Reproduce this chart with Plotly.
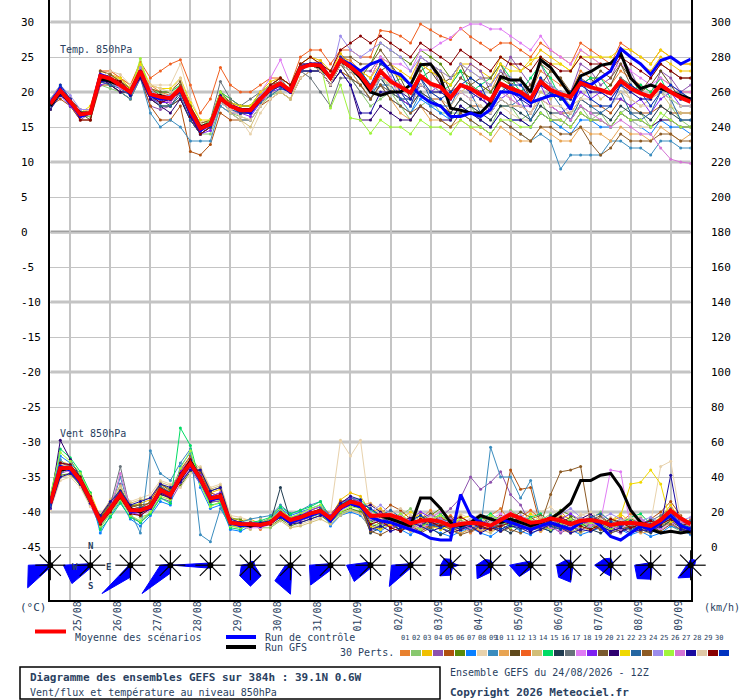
import math
import plotly.graph_objects as go

W, H = 740, 700
X0_PX, X1_PX = 50.3, 690.7      # left / right axis lines
Y_BOTTOM_PX = 600               # bottom axis line
T_TOP, T_BOTTOM = 33.143, -52.571
MONO = "DejaVu Sans Mono"

hours = list(range(0, 385, 6))
day_ticks = list(range(12, 384, 24))
day_labels = ["25/08", "26/08", "27/08", "28/08", "29/08", "30/08", "31/08", "01/09",
              "02/09", "03/09", "04/09", "05/09", "06/09", "07/09", "08/09", "09/09"]
temp_ticks = list(range(-45, 31, 5))
wind_ticks = list(range(0, 301, 20))

member_colors = [
    "#E8812F", "#88C86E", "#F0C000", "#8E52AE", "#B0500E", "#5A8A0A", "#0A80FF", "#E8D2AC",
    "#3A8CBE", "#E8A452", "#604A1C", "#F06020", "#D2BE78", "#00DC64", "#203C50", "#68737A",
    "#E07CF4", "#7E20F0", "#7A5A2E", "#2E0070", "#F0D800", "#2466A2", "#8C5A24", "#9C8CEC",
    "#A0F43C", "#D474D4", "#1A0AA0", "#E0C8A6", "#880000", "#0032C0",
]

# ---- temperature 850 hPa (deg C), every 6 h ----
temp_mean = [18.3, 20.2, 18.6, 16.8, 17.0, 22.3, 21.9, 21.0,
             20.0, 23.0, 19.7, 19.3, 19.1, 20.5, 17.4, 14.8,
             15.4, 19.1, 18.0, 17.4, 17.4, 19.0, 20.5, 21.2,
             20.2, 23.4, 23.9, 23.8, 22.0, 24.6, 23.6, 22.4,
             20.5, 23.0, 21.5, 20.7, 19.9, 22.3, 21.2, 20.7,
             19.2, 21.0, 20.5, 19.6, 18.8, 21.2, 20.5, 20.0,
             19.0, 21.5, 20.3, 19.7, 19.3, 21.3, 20.7, 20.3,
             19.8, 21.6, 20.5, 19.8, 19.3, 21.0, 20.0, 19.2,
             18.6]
temp_control = [18.5, 20.5, 18.5, 16.5, 17, 22.5, 22, 21,
                20, 23, 19.5, 19, 19, 20.5, 17, 14.5,
                15.5, 19, 18, 17.5, 17, 19, 20.5, 21,
                20, 23.5, 24, 24, 22, 24.5, 24, 23,
                24, 24.5, 23, 22.5, 21, 19.5, 18.5, 18,
                16.5, 16.5, 17, 16.5, 17.5, 20, 20, 19.5,
                18.5, 19, 19.5, 19.5, 17.5, 21.5, 21, 22,
                23, 26.2, 25, 24, 22.5, 24.5, 25, 24,
                24.7]
temp_gfs = [18, 20, 18.5, 17, 17, 22, 21.5, 21,
            20, 23, 19.5, 19.5, 19, 20.5, 17.5, 15,
            15.5, 19, 18, 17.5, 17.5, 19, 20.5, 21,
            20, 23.5, 24, 23.5, 22, 24.5, 23.5, 22,
            20, 19.5, 20, 20, 21, 23.9, 24, 22,
            17.7, 17.4, 17, 17, 18.5, 22.2, 21.7, 21.7,
            20, 24.6, 23.5, 21.5, 19.5, 22.3, 22.9, 23.8,
            24.1, 25.5, 22, 20.5, 21, 20.5, 20, 19.5,
            19]

t01 = [18.5, 20.5, 18.5, 17, 17.5, 22.5, 21.5, 21, 20, 23, 21, 20, 19.5, 21, 18, 15,
       15.5, 19.5, 18, 17, 17.5, 19.5, 21, 21.5, 20.5, 24, 24, 24.5, 22, 25, 24.5, 23,
       22, 25, 23, 22, 21, 24, 23, 22, 21, 23, 22, 21, 20, 23, 22, 21,
       20, 23, 22, 21, 20, 23, 22, 22, 21, 23, 22, 21, 20, 22, 21, 20, 20]
t02 = [18, 19.5, 18.5, 16.5, 16.5, 21, 20.5, 20, 19, 22, 19, 18, 18, 19, 16, 14,
       14, 18, 17, 16.5, 16, 18, 19.5, 20, 19, 22, 23, 23, 21, 23, 22, 20,
       18, 19, 20, 18, 16, 18, 19, 17, 17, 17, 18, 16, 15, 18, 18, 16,
       17, 19, 16, 15, 17, 18, 16, 17, 15, 17, 18, 17, 15, 16, 18, 16, 15]
t03 = [19, 21, 19, 17, 17.5, 23, 22.5, 22, 21, 24, 20.5, 20, 20, 21.5, 18, 15.5,
       16, 20, 19, 18, 18, 20, 21.5, 22, 21, 24, 25, 24.5, 23, 25.5, 24, 23,
       22, 25, 24, 23, 22, 25, 24, 23, 22, 24, 24, 23, 22, 25, 24, 23,
       24, 26, 25, 24, 23, 26, 25, 24, 23, 26, 25, 24, 23, 25, 24, 23, 23]
t04 = [18, 20, 18, 16, 17, 22, 21, 20, 20, 22, 18, 17.5, 18, 19, 16, 14,
       15, 18, 17, 17, 17, 19, 20, 21, 20, 23, 24, 23, 21, 24, 24, 23,
       23, 25, 22, 20, 21, 25, 24, 21, 20, 22, 24, 23, 20, 22, 25, 23,
       21, 24, 21, 19, 20, 24, 23, 21, 22, 25, 23, 20, 19, 23, 22, 20, 21]
t05 = [18, 19, 18, 16, 16, 21, 21, 20, 19, 22, 18, 16, 16, 18, 11.5, 11,
       12.5, 17, 16, 16, 16, 18, 19, 20, 19, 22, 23, 23, 21, 23, 22, 21,
       19, 21, 20, 19, 18, 20, 19, 19, 17, 19, 18, 18, 17, 19, 18, 18,
       17, 19, 18, 17, 17, 19, 18, 18, 17, 19, 18, 17, 17, 18, 17, 17, 17]
t06 = [18.5, 20, 19, 17, 17, 22, 22, 21.5, 20.5, 23, 20, 19, 19, 20, 17, 15,
       15, 19, 18, 17.5, 17, 19, 20.5, 21, 20, 23, 24, 24, 22, 24, 23, 22,
       24, 27, 26, 25, 24, 26, 25, 24, 22, 23, 22, 21, 20, 22, 21, 20,
       19, 22, 21, 20, 19, 21, 21, 20, 20, 22, 21, 20, 19, 21, 20, 19, 19]
t07 = [18, 20, 19, 17, 17, 22, 22, 21, 20, 23, 20, 19, 19, 20, 17, 15,
       16, 19, 18, 17, 17, 19, 20, 21, 20, 23, 23, 23, 21, 24, 23, 21,
       19, 21, 19, 18, 17, 19, 18, 17, 16, 18, 17, 16, 15, 17, 16, 16,
       15, 17, 16, 15, 14, 16, 16, 15, 15, 17, 16, 15, 14, 16, 15, 15, 14]
t08 = [18, 20, 19, 17, 17, 23, 23, 22, 21, 23, 21, 21, 21, 24, 19, 16,
       15, 18, 17, 16, 14, 17, 19, 20, 19, 22, 23, 23, 21, 24, 23, 21,
       20, 22, 20, 19, 18, 20, 19, 18, 17, 19, 18, 17, 16, 18, 17, 16,
       16, 18, 17, 16, 15, 17, 16, 16, 15, 17, 16, 15, 15, 16, 16, 15, 15]
t09 = [18, 20, 18, 17, 17, 22, 21, 20, 19, 22, 17, 15, 16, 15, 13, 13,
       13, 18, 17, 16, 16, 18, 20, 21, 20, 23, 24, 23, 21, 24, 22, 21,
       19, 22, 20, 19, 17, 20, 18, 18, 16, 17, 16, 15, 14, 16, 15, 14,
       13, 14, 13, 9, 11, 11, 11, 11, 13, 13, 12, 12, 11, 13, 13, 12, 12]
t10 = [18, 20, 19, 17, 17, 22, 22, 21, 20, 23, 20, 19, 19, 21, 17, 15,
       16, 20, 18, 18, 18, 19, 21, 21, 20, 23, 24, 23, 21, 24, 23, 21,
       19, 21, 19, 17, 16, 18, 16, 16, 15, 16, 15, 14, 13, 15, 14, 13,
       13, 15, 14, 13, 13, 15, 14, 14, 13, 15, 14, 14, 13, 15, 14, 13, 14]
t11 = [17.5, 20, 18, 17, 16, 21.5, 21, 20, 20, 22, 19, 18, 18, 19, 16, 14,
       15, 19, 18, 17, 17, 19, 20, 21, 20, 23, 24, 24, 22, 24, 24, 23,
       20, 23, 24, 22, 19, 22, 23, 21, 22, 24, 21, 20, 21, 23, 21, 22,
       19, 21, 23, 22, 19, 21, 22, 20, 21, 24, 22, 20, 21, 23, 21, 19, 19]
t12 = [18, 20, 19, 17, 17, 23, 23, 22, 21, 24.3, 22, 23, 24, 24.6, 21, 17,
       19, 23.5, 21, 20, 20, 21, 22, 22, 21, 25, 26, 26, 24, 26, 26, 25,
       25, 28.8, 28.6, 28, 27, 29.7, 28.9, 28, 27.5, 29.1, 27.9, 27, 26, 27, 27, 26,
       25, 27, 26, 25, 24, 27, 26, 25, 24, 27, 26, 25, 24, 26, 25, 24, 24]
t13 = [18, 20, 19, 17, 17, 22, 22, 22, 20, 23, 20, 20, 19, 21, 17, 15,
       15, 19, 17, 16, 15, 18, 20, 20, 19, 23, 23, 23, 21, 24, 23, 22,
       21, 23, 20, 21, 20, 22, 20, 19, 18, 20, 21, 19, 18, 21, 19, 18,
       17, 20, 19, 20, 18, 19, 21, 19, 20, 21, 19, 18, 19, 20, 18, 17, 17]
t14 = [19, 20.5, 19, 17, 17, 22, 22, 21, 20, 23, 20, 20, 20, 21, 18, 15,
       16, 20, 19, 18, 18, 20, 21, 22, 21, 24, 24, 24, 22, 25, 24, 23,
       21, 22, 21, 22, 21, 24, 21, 20, 21, 23, 20, 21, 22, 24, 22, 20,
       22, 24, 22, 19, 18, 21, 22, 22, 20, 21, 20, 21, 20, 22, 19, 18, 18]
t15 = [18, 20, 18, 17, 17, 22, 21, 21, 20, 22, 19, 19, 18, 20, 17, 14,
       15, 19, 18, 17, 17, 19, 20, 21, 20, 23, 23, 23, 21, 24, 23, 22,
       20, 22, 20, 19, 18, 20, 19, 18, 17, 19, 18, 17, 16, 18, 18, 17,
       16, 18, 17, 17, 16, 18, 17, 17, 16, 18, 17, 17, 16, 18, 17, 16, 16]
t16 = [18, 20, 19, 17, 17, 22, 22, 21, 20, 22, 20, 19, 19, 20, 17, 15,
       16, 21.5, 19, 18, 19, 20, 21, 22, 20, 23, 22, 20, 18, 22, 22, 20,
       19, 21, 20, 19, 19, 21, 20, 20, 19, 21, 20, 20, 19, 21, 20, 20,
       19, 21, 20, 20, 19, 21, 21, 20, 20, 22, 21, 20, 19, 21, 20, 20, 19]
t17 = [18, 20, 19, 17, 17, 22, 22, 21, 20, 23, 20, 19, 19, 20, 17, 15,
       15, 19, 18, 17, 17, 20, 22, 24.6, 21, 24, 24, 24, 22, 25, 24, 23,
       22, 25, 24, 24, 23, 26, 26, 27, 27.8, 29, 29.7, 29.7, 29, 29, 28, 27,
       26, 28, 26, 25, 24, 26, 25, 24, 23, 24, 23, 22, 21, 22, 21, 20, 20]
t18 = [18.5, 19.5, 18, 16.5, 17, 21, 21.5, 20.5, 19.5, 22, 19, 18.5, 18.5, 20.5, 16.5, 14,
       14.5, 18.5, 17.5, 17, 16.5, 18.5, 20, 20.5, 20, 23, 24, 24, 22, 25, 24, 22,
       20, 22, 22, 19, 18, 21, 20, 21, 19, 20, 19, 20, 17, 19, 20, 18,
       18, 21, 18, 17, 18, 20, 19, 20, 19, 19, 18, 19, 17, 19, 20, 18, 18]
t19 = [17.5, 20.5, 19, 17.5, 17.5, 23, 22.5, 21.5, 20.5, 23.5, 20.5, 20, 20, 21.5, 18, 15.5,
       16, 20, 18.5, 18, 18, 19.5, 21, 21.5, 20, 23, 24, 24, 22, 25, 25, 24,
       24, 26, 24, 21, 20, 23, 24, 23, 20, 22, 21, 22, 22, 24, 21, 20,
       21, 24, 23, 22, 20, 22, 21, 23, 22, 24, 21, 20, 22, 24, 23, 22, 22]
t20 = [18, 20, 19, 17, 17, 22, 21, 20, 20, 22, 19, 18, 17, 19, 16, 14,
       15, 19, 18, 17, 17, 19, 21, 22, 21, 24, 24, 23, 21, 23, 21, 16,
       16, 18, 17, 16, 16, 18, 17, 16, 16, 18, 17, 16, 15, 17, 16, 16,
       15, 17, 16, 16, 15, 17, 16, 16, 15, 17, 16, 16, 15, 16, 16, 15, 15]
t21 = [18, 20, 19, 17, 18, 22.5, 22, 22, 20.5, 24, 21, 20.5, 20.5, 22, 18.5, 16,
       16, 19.5, 18.5, 18, 18, 20, 21, 22, 21, 24, 25, 24, 23, 25, 24, 23,
       22, 24, 23, 22, 21, 24, 23, 22, 21, 24, 23, 22, 21, 24, 23, 23,
       24.6, 25, 24, 24, 23, 25, 25, 25, 25, 26.2, 26, 25, 24, 26, 25, 24, 24]
t22 = [18.5, 20.5, 18.5, 16.5, 17, 21.5, 21, 20.5, 19.5, 22.5, 19.5, 18, 18, 19.5, 16, 14,
       15, 18.5, 17.5, 17, 17, 18.5, 19.5, 20.5, 20, 23, 24, 23, 22, 24, 23, 22,
       20, 21, 21, 19, 19, 22, 19, 18, 18, 21, 20, 17, 17, 19, 18, 19,
       16, 19, 20, 18, 16, 19, 18, 17, 18, 20, 17, 16, 17, 20, 19, 16, 16]
t23 = [18, 20, 19, 17, 17, 22, 22.5, 21.5, 20, 23, 20.5, 19.5, 19, 21, 17.5, 15,
       15.5, 19.5, 18.5, 17.5, 17.5, 19.5, 20.5, 21.5, 20, 23, 24, 23, 21, 24, 22, 21,
       19, 21, 19, 18, 17, 18, 17, 16, 15, 17, 16, 15, 14, 16, 15, 14,
       13, 15, 15, 14, 14, 15, 12.7, 11, 12, 14, 13, 13, 13, 14, 14, 13, 13]
t24 = [19, 21, 19.5, 17.5, 17.5, 22.5, 22, 21, 20, 23.5, 20, 19.5, 19.5, 20.5, 17, 15,
       15, 19, 18, 17, 17, 19.5, 21, 21, 20, 23, 24, 24, 22, 28, 26, 25,
       26, 27, 26, 25, 23, 25, 24, 23, 22, 24, 23, 22, 21, 23, 22, 21,
       20, 22, 21, 20, 19, 21, 20, 20, 19, 21, 20, 19, 19, 21, 20, 19, 19]
t25 = [18, 20, 19, 17, 17, 22, 22, 21, 20, 24.8, 20, 19, 19, 20, 17, 15,
       16, 20, 18, 17, 17, 19, 20, 21, 20, 23, 24, 24, 17.7, 21, 16.3, 16,
       14.1, 16, 15, 15, 14, 16, 15, 15, 14, 16, 15, 15, 14, 16, 16, 15,
       15, 17, 16, 16, 15, 17, 16, 16, 15, 17, 16, 16, 15, 17, 16, 15, 15]
t26 = [18, 20, 18.5, 17, 17, 22, 21.5, 20.5, 20, 23, 20.5, 19, 18.5, 20, 17.5, 14.5,
       15, 19, 18, 17.5, 17, 19, 20.5, 21.5, 20, 23, 24, 24, 22, 25, 24, 22,
       21, 23, 22, 21, 20, 22, 21, 20, 19, 21, 20, 19, 18, 20, 19, 18,
       17, 19, 18, 17, 16, 18, 17, 16, 15, 16, 15, 14, 14, 12, 10.4, 10, 9.8]
t27 = [17.5, 19.5, 18.5, 17, 17, 21.5, 21.5, 21, 19.5, 22.5, 19.5, 18.5, 19, 20, 16.5, 14.5,
       15.5, 19.5, 18, 17, 17.5, 19, 20, 21, 20, 23, 23, 23, 21, 23, 21, 17,
       17, 20, 20, 20, 19, 21, 20, 20, 19, 21, 20, 19, 18, 21, 20, 19,
       18, 21, 20, 19, 19, 21, 20, 20, 19, 21, 20, 19, 19, 21, 20, 19, 19]
t28 = [18, 20, 19, 17, 17.5, 22, 23, 22.5, 21, 23, 21, 20.5, 20, 22, 17.5, 15.5,
       15, 18.5, 17.5, 16.5, 16, 18, 20, 21, 20, 23, 24, 23, 21, 24, 23, 22,
       20, 22, 21, 20, 18, 21, 20, 19, 18, 20, 19, 18, 17, 19, 18, 18,
       17, 19, 18, 18, 17, 19, 19, 18, 18, 20, 19, 18, 18, 20, 19, 18, 18]
t29 = [18.5, 20.5, 19, 16, 16, 22, 22, 21.5, 20, 23, 19.5, 18.5, 19, 20, 16.5, 14,
       15, 19, 18, 17, 17, 19, 21, 22, 21, 24, 25, 24, 23, 26, 27, 28,
       27, 28, 27, 26, 25, 27, 26, 25, 24, 26, 25, 24, 23, 25, 24, 24,
       23, 25, 24, 23, 23, 25, 24, 24, 23, 25, 24, 23, 22, 24, 23, 22, 22]
t30 = [18, 21, 19, 17, 17, 22, 22, 21, 20, 23, 20, 19, 19, 20, 17, 15,
       15, 19, 18, 17, 17, 19, 20, 21, 20, 23, 24, 24, 22, 25, 24, 23,
       21, 24, 23, 20, 18, 22, 20, 19, 20, 21, 22, 21, 18, 20, 21, 21,
       19, 22, 20, 19, 20, 22, 19, 18, 18, 21, 21, 20, 18, 20, 21, 20, 19]
temp_members = [t01, t02, t03, t04, t05, t06, t07, t08, t09, t10, t11, t12, t13, t14, t15,
                t16, t17, t18, t19, t20, t21, t22, t23, t24, t25, t26, t27, t28, t29, t30]

# ---- wind 850 hPa (km/h), every 6 h ----
wind_mean = [25, 45, 45.3, 38, 27, 14.5, 22, 30,
             21, 21, 23, 32.6, 29.7, 40, 47.8, 39,
             27.8, 29, 13.9, 13.1, 13, 12.6, 13.9, 19.2,
             15.4, 17, 19.2, 20.6, 16.4, 22.7, 25.9, 24.4,
             17.8, 18.3, 18.3, 16.4, 13.5, 15, 15.4, 14.5,
             12, 13.1, 13.9, 13.5, 12.2, 15.4, 18.7, 16.4,
             13.9, 14.5, 16.4, 15, 13.1, 15, 15.4, 14.5,
             12.6, 13.5, 13.9, 13.1, 12, 15.4, 20.8, 16.4,
             13]
wind_control = [25, 46, 44, 37, 27, 14, 22, 31, 20, 21, 22, 32, 29, 41, 47, 38,
                27, 28, 14, 12, 13, 12, 14, 18, 14, 16, 18, 20, 15, 22, 25, 23,
                17, 15, 14, 12, 10, 8, 5, 4, 4, 30, 18, 14, 12, 16, 14, 12,
                10, 12, 14, 12, 10, 14, 16, 12, 6, 4, 8, 12, 10, 14, 18, 12, 10]
wind_gfs = [25, 44, 45, 38, 27, 15, 22, 30, 22, 20, 23, 33, 30, 39, 49, 39,
            28, 29, 14, 13, 12, 13, 14, 19, 15, 17, 19, 21, 16, 23, 26, 24,
            18, 18, 16, 14, 12, 28, 28, 22, 14, 12, 14, 18, 16, 14, 16, 14,
            12, 14, 16, 20, 25, 38, 38, 41, 42, 34, 21, 14, 10, 8, 9, 8, 9]

w01 = [24, 44, 47, 40, 29, 13, 23, 31, 19, 23, 25, 31, 27, 43, 51, 41,
       29, 31, 12, 11, 14, 10, 15, 17, 13, 15, 21, 23, 19, 25, 29, 23,
       18, 14, 20, 12, 9, 16, 21, 13, 10, 15, 8, 12, 18, 22, 14, 11,
       16, 9, 13, 20, 15, 11, 17, 12, 9, 14, 19, 15, 10, 13, 18, 12, 16]
w02 = [27, 47, 43, 35, 25, 11, 19, 27, 23, 17, 19, 29, 33, 37, 45, 37,
       25, 27, 11, 15, 15, 11, 11, 15, 17, 19, 17, 19, 13, 19, 21, 21,
       12, 16, 11, 18, 22, 14, 9, 15, 13, 7, 12, 16, 10, 14, 21, 17,
       11, 15, 19, 13, 8, 12, 16, 20, 14, 10, 13, 17, 11, 15, 12, 9, 13]
w03 = [25, 49, 47, 41, 31, 17, 25, 33, 23, 25, 27, 35, 31, 39, 47, 43,
       31, 33, 17, 15, 16, 13, 17, 23, 15, 17, 21, 23, 17, 27, 31, 29,
       20, 22, 17, 13, 15, 19, 12, 10, 14, 18, 13, 9, 11, 16, 20, 15,
       12, 10, 14, 18, 16, 12, 9, 13, 15, 19, 14, 11, 13, 17, 24, 15, 11]
w04 = [22, 42, 44, 36, 24, 12, 20, 36, 18, 14, 20, 28, 26, 36, 44, 36,
       26, 26, 15, 12, 11, 14, 13, 21, 14, 15, 17, 22, 15, 21, 24, 22,
       9, 12, 15, 19, 14, 10, 13, 17, 22, 28, 40, 33, 37, 43, 30, 24,
       13, 16, 12, 8, 11, 14, 18, 13, 10, 8, 12, 15, 13, 11, 14, 10, 8]
w05 = [26, 48, 46, 39, 28, 17, 24, 28, 24, 22, 26, 36, 32, 44, 52, 42,
       31, 29, 16, 14, 13, 12, 14, 20, 16, 18, 20, 21, 18, 26, 27, 26,
       15, 19, 24, 21, 16, 12, 14, 18, 11, 9, 13, 17, 14, 18, 44, 33,
       34, 12, 15, 11, 9, 13, 16, 14, 12, 15, 11, 13, 16, 20, 26, 18, 12]
w06 = [23, 41, 42, 35, 24, 17, 25, 33, 24, 24, 20, 36, 33, 35, 43, 44,
       32, 34, 16, 16, 11, 15, 12, 16, 12, 14, 16, 18, 14, 20, 22, 20,
       22, 17, 14, 16, 11, 15, 18, 22, 16, 12, 10, 14, 12, 16, 14, 12,
       10, 14, 17, 21, 18, 15, 12, 10, 12, 14, 16, 13, 10, 12, 15, 17, 14]
w07 = [28, 52, 48, 42, 30, 8, 18, 26, 16, 12, 18, 26, 24, 46, 54, 34,
       22, 24, 10, 9, 12, 14, 16, 22, 18, 20, 22, 24, 12, 18, 20, 18,
       11, 9, 13, 10, 7, 12, 10, 8, 6, 9, 11, 8, 6, 10, 13, 9,
       7, 11, 9, 12, 10, 7, 9, 11, 8, 10, 7, 9, 6, 8, 12, 10, 7]
w08 = [21, 38, 40, 34, 23, 19, 26, 34, 26, 28, 30, 38, 36, 34, 42, 46,
       34, 36, 18, 17, 15, 11, 13, 18, 11, 13, 15, 17, 19, 61, 52, 61,
       17, 20, 16, 14, 18, 13, 16, 20, 15, 19, 16, 12, 15, 13, 17, 14,
       18, 20, 23, 17, 14, 19, 16, 13, 17, 13, 16, 18, 14, 46, 49, 16, 13]
w09 = [30, 50, 44, 37, 26, 14, 21, 40, 20, 8, 55, 42, 38, 48, 56, 7,
       3, 22, 12, 14, 16, 17, 18, 24, 19, 21, 24, 26, 14, 21, 24, 26,
       13, 11, 15, 12, 14, 18, 15, 11, 9, 12, 14, 10, 57, 40, 40, 28,
       38, 15, 11, 14, 12, 10, 13, 16, 11, 13, 15, 12, 9, 14, 19, 13, 10]
w10 = [25, 45, 45, 38, 27, 15, 22, 30, 21, 21, 23, 33, 30, 40, 48, 39,
       28, 29, 14, 13, 13, 13, 14, 19, 15, 17, 19, 21, 16, 23, 26, 24,
       25, 21, 18, 15, 12, 10, 12, 14, 10, 8, 10, 12, 9, 11, 15, 13,
       11, 9, 12, 10, 8, 10, 12, 11, 9, 11, 10, 8, 9, 11, 14, 12, 9]
w11 = [26, 43, 46, 39, 26, 16, 21, 29, 22, 20, 24, 32, 29, 41, 47, 40,
       27, 30, 15, 12, 14, 12, 15, 18, 14, 18, 20, 20, 17, 22, 25, 25,
       14, 17, 13, 10, 12, 16, 19, 15, 12, 10, 15, 18, 14, 11, 16, 20,
       17, 13, 10, 14, 17, 12, 15, 18, 13, 11, 16, 14, 12, 15, 19, 14, 11]
w12 = [24, 46, 44, 37, 28, 14, 23, 31, 20, 22, 22, 34, 31, 39, 49, 38,
       29, 28, 13, 14, 12, 14, 13, 20, 16, 16, 18, 22, 15, 24, 27, 23,
       19, 15, 12, 14, 17, 13, 11, 16, 18, 14, 11, 9, 12, 15, 13, 17,
       21, 16, 13, 11, 14, 16, 12, 10, 15, 17, 13, 12, 10, 14, 17, 13, 15]
w13 = [23, 40, 41, 36, 25, 18, 27, 35, 25, 27, 28, 37, 35, 42, 50, 45,
       33, 35, 17, 12, 10, 16, 12, 15, 11, 12, 14, 16, 13, 18, 21, 19,
       10, 13, 16, 12, 9, 11, 14, 12, 15, 18, 13, 10, 8, 12, 16, 14,
       11, 13, 17, 14, 10, 8, 11, 14, 16, 12, 9, 11, 14, 12, 16, 11, 9]
w14 = [29, 56, 51, 43, 31, 10, 17, 25, 17, 14, 19, 28, 25, 68, 58, 36,
       24, 25, 11, 10, 14, 15, 17, 23, 19, 21, 23, 26, 17, 24, 28, 27,
       21, 18, 15, 17, 14, 12, 15, 19, 13, 11, 14, 16, 19, 15, 12, 14,
       17, 19, 14, 12, 16, 13, 11, 15, 12, 14, 17, 19, 13, 16, 21, 17, 14]
w15 = [27, 46, 47, 39, 28, 15, 21, 30, 22, 21, 24, 30, 29, 38, 47, 39,
       27, 29, 14, 13, 13, 13, 14, 34, 15, 17, 19, 21, 16, 23, 26, 24,
       8, 11, 14, 9, 12, 15, 11, 7, 10, 13, 9, 12, 15, 11, 8, 12,
       14, 11, 9, 13, 11, 14, 10, 8, 11, 9, 12, 10, 8, 11, 15, 11, 8]
w16 = [25, 47, 44, 38, 27, 16, 24, 46, 21, 23, 22, 35, 31, 40, 46, 40,
       30, 27, 15, 13, 14, 12, 15, 18, 16, 19, 18, 20, 17, 22, 27, 23,
       16, 13, 19, 15, 11, 14, 17, 13, 11, 14, 12, 15, 11, 13, 18, 15,
       12, 14, 16, 12, 15, 17, 14, 11, 13, 16, 14, 12, 15, 18, 22, 16, 12]
w17 = [22, 44, 43, 37, 25, 13, 20, 28, 19, 19, 21, 31, 28, 37, 45, 38,
       27, 28, 13, 12, 11, 11, 13, 18, 14, 15, 18, 20, 15, 21, 24, 23,
       13, 16, 14, 18, 15, 11, 13, 16, 14, 12, 9, 13, 16, 19, 15, 12,
       10, 13, 15, 17, 13, 10, 12, 15, 44, 43, 11, 14, 12, 10, 13, 15, 12]
w18 = [28, 48, 47, 40, 29, 14, 21, 29, 20, 18, 22, 33, 31, 43, 50, 41,
       29, 31, 15, 14, 14, 14, 16, 21, 17, 18, 21, 23, 18, 25, 28, 26,
       17, 14, 11, 13, 16, 20, 17, 14, 12, 15, 13, 11, 14, 16, 19, 16,
       13, 11, 13, 16, 19, 15, 13, 12, 10, 12, 14, 16, 13, 15, 20, 14, 13]
w19 = [24, 43, 45, 37, 27, 18, 25, 31, 23, 24, 25, 33, 30, 40, 47, 38,
       28, 29, 14, 13, 13, 13, 14, 19, 14, 16, 19, 20, 17, 22, 26, 24,
       11, 14, 17, 15, 12, 9, 12, 15, 17, 13, 15, 18, 12, 9, 11, 14,
       16, 18, 12, 15, 12, 9, 14, 17, 13, 15, 13, 10, 12, 14, 18, 12, 10]
w20 = [25, 61, 50, 40, 28, 14, 22, 28, 20, 20, 22, 30, 28, 38, 46, 38,
       26, 28, 14, 12, 12, 12, 14, 18, 14, 16, 18, 20, 16, 22, 24, 22,
       24, 20, 16, 14, 17, 13, 15, 11, 8, 10, 14, 11, 10, 13, 16, 12,
       9, 12, 10, 14, 12, 16, 19, 14, 11, 9, 11, 13, 11, 13, 16, 12, 9]
w21 = [26, 45, 45, 38, 27, 15, 22, 30, 21, 21, 24, 33, 30, 40, 48, 39,
       28, 29, 14, 13, 13, 13, 14, 19, 15, 17, 19, 21, 16, 23, 26, 24,
       12, 10, 13, 16, 20, 17, 13, 10, 12, 16, 18, 14, 11, 9, 12, 15,
       19, 15, 12, 10, 13, 16, 14, 11, 14, 18, 36, 37, 44, 36, 14, 16, 11]
w22 = [23, 42, 46, 41, 29, 16, 23, 29, 21, 22, 23, 34, 31, 39, 47, 39,
       29, 28, 15, 13, 12, 14, 14, 20, 15, 18, 19, 22, 16, 24, 25, 24,
       15, 18, 21, 17, 13, 15, 12, 14, 16, 12, 10, 13, 17, 14, 12, 10,
       12, 14, 18, 15, 12, 14, 17, 19, 15, 12, 10, 12, 16, 13, 17, 13, 15]
w23 = [27, 47, 44, 36, 26, 15, 21, 31, 22, 20, 22, 32, 29, 41, 49, 40,
       27, 30, 14, 12, 14, 13, 15, 19, 16, 17, 20, 21, 17, 23, 27, 23,
       9, 7, 10, 13, 11, 8, 11, 13, 10, 7, 9, 12, 10, 13, 10, 8,
       11, 13, 30, 43, 44, 46, 13, 10, 8, 10, 12, 9, 11, 9, 13, 10, 8]
w24 = [24, 45, 46, 39, 28, 14, 22, 29, 21, 21, 23, 33, 30, 40, 48, 39,
       28, 29, 14, 13, 13, 13, 14, 19, 15, 17, 19, 21, 16, 23, 26, 24,
       20, 24, 19, 15, 11, 14, 18, 16, 13, 11, 15, 19, 16, 12, 14, 18,
       15, 13, 16, 19, 22, 17, 13, 16, 19, 16, 13, 15, 17, 14, 18, 15, 17]
w25 = [30, 54, 49, 42, 30, 12, 19, 27, 18, 15, 20, 29, 27, 45, 55, 36,
       23, 26, 12, 11, 13, 14, 16, 21, 17, 19, 22, 24, 15, 20, 23, 22,
       14, 12, 16, 19, 14, 10, 16, 18, 14, 16, 12, 14, 18, 15, 11, 13,
       16, 12, 10, 13, 16, 12, 14, 12, 10, 13, 16, 12, 11, 13, 17, 14, 11]
w26 = [25, 46, 45, 37, 27, 16, 22, 42, 22, 21, 23, 32, 30, 41, 47, 39,
       28, 29, 14, 13, 13, 13, 14, 19, 15, 17, 19, 21, 16, 23, 26, 24,
       16, 19, 15, 12, 10, 13, 17, 20, 16, 13, 11, 15, 13, 17, 20, 16,
       13, 15, 11, 9, 12, 15, 12, 14, 12, 10, 14, 16, 12, 14, 19, 14, 12]
w27 = [22, 40, 42, 36, 25, 18, 26, 32, 24, 26, 28, 36, 34, 37, 44, 44,
       32, 34, 16, 14, 12, 12, 13, 17, 13, 14, 16, 18, 17, 25, 29, 27,
       10, 12, 9, 11, 14, 12, 9, 11, 13, 10, 12, 8, 11, 9, 12, 11,
       8, 10, 13, 11, 8, 10, 9, 12, 9, 11, 8, 10, 9, 12, 41, 10, 9]
w28 = [26, 47, 46, 39, 28, 15, 22, 30, 21, 21, 23, 33, 30, 40, 48, 39,
       28, 29, 14, 13, 13, 13, 14, 19, 15, 17, 19, 21, 16, 23, 26, 24,
       18, 16, 19, 22, 18, 15, 17, 14, 12, 14, 16, 19, 14, 17, 15, 12,
       14, 17, 15, 12, 14, 18, 20, 16, 13, 15, 17, 14, 12, 16, 18, 16, 13]
w29 = [27, 48, 47, 40, 29, 13, 20, 28, 19, 18, 22, 31, 28, 42, 50, 40,
       28, 30, 13, 12, 13, 12, 13, 18, 14, 16, 18, 20, 15, 22, 25, 23,
       13, 15, 11, 9, 13, 16, 14, 12, 15, 17, 14, 12, 10, 12, 14, 17,
       14, 12, 15, 17, 14, 12, 10, 13, 16, 14, 11, 13, 15, 13, 16, 12, 14]
w30 = [24, 46, 46, 38, 26, 14, 23, 31, 20, 22, 24, 32, 31, 41, 49, 40,
       29, 28, 13, 14, 13, 14, 15, 20, 16, 18, 20, 20, 17, 24, 27, 25,
       22, 18, 14, 12, 15, 18, 13, 11, 14, 11, 13, 15, 12, 10, 13, 16,
       12, 14, 12, 10, 13, 15, 16, 12, 14, 12, 15, 11, 13, 16, 20, 13, 11]
wind_members = [w01, w02, w03, w04, w05, w06, w07, w08, w09, w10, w11, w12, w13, w14, w15,
                w16, w17, w18, w19, w20, w21, w22, w23, w24, w25, w26, w27, w28, w29, w30]

# ---- wind roses at 12Z each day: frequency by sector N, NE, E, SE, S, SW, W, NW ----
rose_hours = list(range(0, 385, 24))
rose_freq = [
    [1, 1, 1, 1, 2, 32, 22, 1],
    [1, 1, 1, 1, 3, 26, 27, 2],
    [1, 1, 1, 1, 12, 40, 2, 1],
    [1, 2, 2, 1, 8, 40, 10, 1],
    [2, 1, 1, 1, 3, 4, 38, 3],
    [4, 5, 4, 15, 21, 15, 9, 2],
    [2, 1, 3, 2, 29, 22, 5, 1],
    [1, 1, 1, 1, 5, 28, 21, 2],
    [2, 1, 1, 1, 3, 23, 24, 4],
    [3, 4, 1, 1, 3, 30, 19, 2],
    [6, 3, 8, 3, 10, 15, 10, 9],
    [5, 3, 2, 2, 7, 19, 14, 8],
    [4, 2, 2, 2, 4, 16, 21, 5],
    [5, 2, 2, 3, 17, 17, 14, 7],
    [7, 3, 2, 2, 11, 10, 16, 9],
    [3, 2, 2, 2, 14, 19, 16, 3],
    [6, 7, 4, 2, 12, 18, 4, 3],
]
rose_bearings = [0, 45, 90, 135, 180, 225, 270, 315]


def wind_to_axis(v):
    # right axis (km/h) is drawn on the same scale as the left one: km/h = 4*degC + 180
    return 4 * v + 180


def paper(x_px, y_px):
    return x_px / W, 1 - y_px / H


HOURS_PER_PX = 384 / (X1_PX - X0_PX)
DEG_PER_PX = (T_TOP - T_BOTTOM) / Y_BOTTOM_PX
ROSE_LEVEL = -47.6
SPOKE_PX = 15


def rose_point(h, r_px, bearing):
    a = math.radians(bearing)
    return h + r_px * math.sin(a) * HOURS_PER_PX, ROSE_LEVEL + r_px * math.cos(a) * DEG_PER_PX


fig = go.Figure()

# ensemble members
for vals, col in zip(temp_members, member_colors):
    fig.add_trace(go.Scatter(x=hours, y=vals, mode="lines+markers",
                             line=dict(color=col, width=1), marker=dict(color=col, size=3),
                             hoverinfo="skip"))
for vals, col in zip(wind_members, member_colors):
    fig.add_trace(go.Scatter(x=hours, y=vals, yaxis="y2", mode="lines+markers",
                             line=dict(color=col, width=1), marker=dict(color=col, size=3),
                             hoverinfo="skip"))

# GFS, control and mean on top
for t_vals, w_vals, col, wd in [(temp_gfs, wind_gfs, "#000000", 3),
                                (temp_control, wind_control, "#0000FF", 3),
                                (temp_mean, wind_mean, "#FF0000", 4)]:
    fig.add_trace(go.Scatter(x=hours, y=t_vals, mode="lines", line=dict(color=col, width=wd),
                             hoverinfo="skip"))
    fig.add_trace(go.Scatter(x=hours, y=w_vals, yaxis="y2", mode="lines",
                             line=dict(color=col, width=wd), hoverinfo="skip"))

# wind roses (own full-page axes so that they can spill past the frame)
spoke_x, spoke_y = [], []
for h, freq in zip(rose_hours, rose_freq):
    pts = [rose_point(h, r, b) for r, b in zip(freq, rose_bearings)]
    pts.append(pts[0])
    fig.add_trace(go.Scatter(x=[p[0] for p in pts], y=[p[1] for p in pts], xaxis="x3", yaxis="y3",
                             mode="lines", fill="toself", fillcolor="#0000FF",
                             line=dict(color="#0000FF", width=1), hoverinfo="skip"))
    for b in (0, 45, 90, 135):
        p0 = rose_point(h, SPOKE_PX, b)
        p1 = rose_point(h, SPOKE_PX, b + 180)
        spoke_x += [p0[0], p1[0], None]
        spoke_y += [p0[1], p1[1], None]
fig.add_trace(go.Scatter(x=spoke_x, y=spoke_y, xaxis="x3", yaxis="y3", mode="lines",
                         line=dict(color="#000000", width=1.2), hoverinfo="skip"))
fig.add_trace(go.Scatter(x=rose_hours, y=[ROSE_LEVEL] * len(rose_hours), xaxis="x3", yaxis="y3",
                         mode="markers", marker=dict(color="#000000", size=6), hoverinfo="skip"))

annotations = []
font = dict(family=MONO, size=11, color="#000000")
for v in temp_ticks:
    annotations.append(dict(x=19 / W, xref="paper", y=v, yref="y", text=str(v), showarrow=False,
                            xanchor="left", yanchor="middle", font=font))
for v in wind_ticks:
    annotations.append(dict(x=709 / W, xref="paper", y=v, yref="y2", text=str(v), showarrow=False,
                            xanchor="left", yanchor="middle", font=font))
for h, lab in zip(day_ticks, day_labels):
    annotations.append(dict(x=h, xref="x", y=paper(0, 616)[1], yref="paper", text=lab,
                            textangle=-90, xshift=7, showarrow=False, xanchor="center",
                            yanchor="middle", font=dict(family=MONO, size=10)))

# compass letters on the second rose
for lab, dx, dy in [("N", 0, -19), ("S", 0, 21), ("W", -15, 2), ("E", 18, 2)]:
    hx = rose_hours[1] + dx * HOURS_PER_PX
    vy = ROSE_LEVEL - dy * DEG_PER_PX
    annotations.append(dict(x=hx, xref="x3", y=vy, yref="y3", text="<b>%s</b>" % lab,
                            showarrow=False, font=dict(family=MONO, size=9)))


def label(x_px, y_px, text, size=10, anchor="left"):
    px, py = paper(x_px, y_px)
    annotations.append(dict(x=px, y=py, xref="paper", yref="paper", text=text, showarrow=False,
                            xanchor=anchor, yanchor="middle", font=dict(family=MONO, size=size)))


label(58, 50, "Temp. 850hPa")
label(58, 433, "Vent 850hPa")
label(18, 607, "(°C)", 11)
label(702, 607, "(km/h)", 10)
label(73, 637, "Moyenne des scénarios")
label(263, 637, "Run de contrôle")
label(263, 647, "Run GFS")
label(338, 652, "30 Perts.")
label(28, 677, "<b>Diagramme des ensembles GEFS sur 384h : 39.1N 0.6W</b>", 11)
label(28, 692, "Vent/flux et température au niveau 850hPa")
label(448, 672, "Ensemble GEFS du 24/08/2026 - 12Z")
label(448, 692, "<b>Copyright 2026 Meteociel.fr</b>", 11)

shapes = []
# heavy grid every 10 degrees, darker line at 0
for v in range(-40, 31, 10):
    shapes.append(dict(type="line", xref="x", yref="y", x0=0, x1=384, y0=v, y1=v, layer="below",
                       line=dict(color="#A0A0A0" if v == 0 else "#C4C4C4", width=3)))


def hline(x0, x1, y, color, width):
    a, b = paper(x0, y), paper(x1, y)
    shapes.append(dict(type="line", xref="paper", yref="paper", x0=a[0], x1=b[0], y0=a[1], y1=b[1],
                       line=dict(color=color, width=width)))


hline(35, 66, 631.5, "#FF0000", 4)
hline(226, 256, 637, "#0000FF", 4)
hline(226, 256, 647, "#000000", 4)

for i, col in enumerate(member_colors):
    x0, y0 = paper(400 + 11 * i, 650)
    x1, y1 = paper(410 + 11 * i, 656)
    shapes.append(dict(type="rect", xref="paper", yref="paper", x0=x0, x1=x1, y0=y1, y1=y0,
                       fillcolor=col, line=dict(width=0)))
    px, py = paper(405 + 11 * i, 643)
    annotations.append(dict(x=px, y=py, xref="paper", yref="paper", text="%02d" % (i + 1),
                            showarrow=False, borderpad=0, font=dict(family=MONO, size=7)))

bx0, by0 = paper(20, 667)
bx1, by1 = paper(440, 699)
shapes.append(dict(type="rect", xref="paper", yref="paper", x0=bx0, x1=bx1, y0=by1, y1=by0,
                   line=dict(color="#000000", width=1.5)))

fig.update_layout(
    width=W, height=H, margin=dict(l=0, r=0, t=0, b=0),
    paper_bgcolor="#FFFFFF", plot_bgcolor="rgba(0,0,0,0)", showlegend=False,
    xaxis=dict(domain=[X0_PX / W, X1_PX / W], range=[0, 384], tickvals=day_ticks,
               showticklabels=False, ticks="", showgrid=True, gridcolor="#C4C4C4", gridwidth=1.5,
               zeroline=False, showline=True, linecolor="#000000", linewidth=2, fixedrange=True),
    yaxis=dict(domain=[1 - Y_BOTTOM_PX / H, 1], range=[T_BOTTOM, T_TOP], tickvals=temp_ticks,
               showticklabels=False, ticks="", showgrid=True, gridcolor="#C4C4C4", gridwidth=1,
               zeroline=False, showline=True, linecolor="#000000", linewidth=2, fixedrange=True),
    yaxis2=dict(overlaying="y", side="right", range=[wind_to_axis(T_BOTTOM), wind_to_axis(T_TOP)],
                showgrid=False, showticklabels=False, ticks="", zeroline=False, showline=True,
                linecolor="#000000", linewidth=2, fixedrange=True),
    xaxis3=dict(domain=[0, 1], anchor="y3", range=[-X0_PX * HOURS_PER_PX, (W - X0_PX) * HOURS_PER_PX],
                visible=False, fixedrange=True),
    yaxis3=dict(domain=[0, 1], anchor="x3",
                range=[T_BOTTOM - (H - Y_BOTTOM_PX) * DEG_PER_PX, T_TOP],
                visible=False, fixedrange=True),
    annotations=annotations,
    shapes=shapes,
)

# the page's default 8px body margin would push the 740x700 chart out of the window
fig.write_html("out.html", config={"displayModeBar": False},
               post_script="document.body.style.margin='0px';")
